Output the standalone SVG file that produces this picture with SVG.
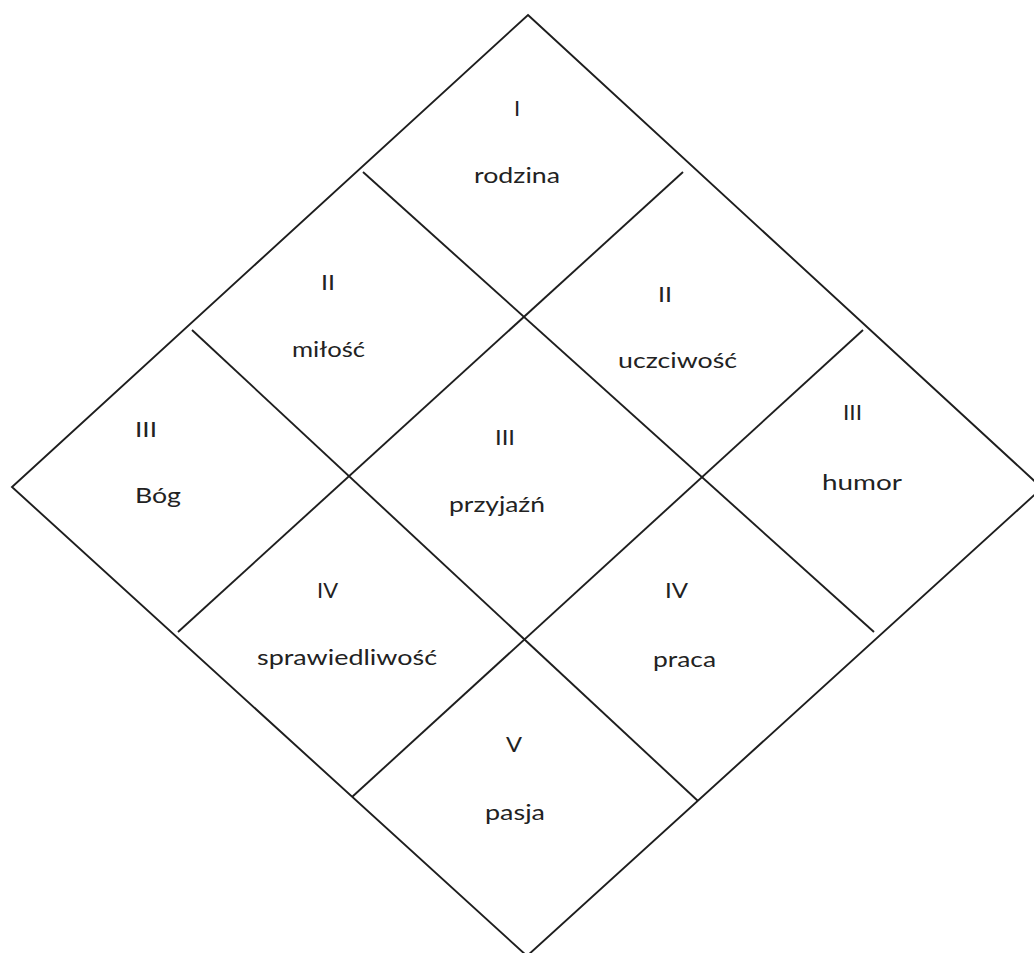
<svg xmlns="http://www.w3.org/2000/svg" width="1034" height="953" viewBox="0 0 1034 953">
<style>
.ln{stroke:#1e1e1e;stroke-width:1.9;fill:none;stroke-linecap:butt;stroke-linejoin:miter}
text{font-family:Lato,"Liberation Sans",sans-serif;font-size:22px;fill:#222}
</style>
<rect width="1034" height="953" fill="#fff"/>
<g id="connectors">
<polygon class="ln" points="528,15 1042,488 527,956 12,487"/>
<line class="ln" x1="363" y1="172" x2="874" y2="632"/>
<line class="ln" x1="192" y1="330" x2="698" y2="801"/>
<line class="ln" x1="683" y1="172" x2="178" y2="632"/>
<line class="ln" x1="863" y1="330" x2="352" y2="797"/>
</g>
<g id="cell-I"><text x="517" y="116" text-anchor="middle">I</text><text x="474" y="183" textLength="86" lengthAdjust="spacingAndGlyphs">rodzina</text></g>
<g id="cell-II-milosc"><text x="321" y="290" textLength="14" lengthAdjust="spacingAndGlyphs">II</text><text x="292" y="357" textLength="73" lengthAdjust="spacingAndGlyphs">miłość</text></g>
<g id="cell-II-uczciwosc"><text x="658" y="302" textLength="14" lengthAdjust="spacingAndGlyphs">II</text><text x="618" y="368" textLength="119" lengthAdjust="spacingAndGlyphs">uczciwość</text></g>
<g id="cell-III-bog"><text x="135" y="437" textLength="22" lengthAdjust="spacingAndGlyphs">III</text><text x="135" y="503" textLength="46" lengthAdjust="spacingAndGlyphs">Bóg</text></g>
<g id="cell-III-przyjazn"><text x="495" y="445" textLength="20" lengthAdjust="spacingAndGlyphs">III</text><text x="449" y="512" textLength="96" lengthAdjust="spacingAndGlyphs">przyjaźń</text></g>
<g id="cell-III-humor"><text x="843" y="420" textLength="19" lengthAdjust="spacingAndGlyphs">III</text><text x="822" y="490" textLength="80" lengthAdjust="spacingAndGlyphs">humor</text></g>
<g id="cell-IV-sprawiedliwosc"><text x="317" y="598" textLength="21" lengthAdjust="spacingAndGlyphs">IV</text><text x="257" y="665" textLength="180" lengthAdjust="spacingAndGlyphs">sprawiedliwość</text></g>
<g id="cell-IV-praca"><text x="665" y="598" textLength="23" lengthAdjust="spacingAndGlyphs">IV</text><text x="653" y="667" textLength="63" lengthAdjust="spacingAndGlyphs">praca</text></g>
<g id="cell-V"><text x="506" y="752" textLength="16" lengthAdjust="spacingAndGlyphs">V</text><text x="485" y="820" textLength="60" lengthAdjust="spacingAndGlyphs">pasja</text></g>
</svg>
